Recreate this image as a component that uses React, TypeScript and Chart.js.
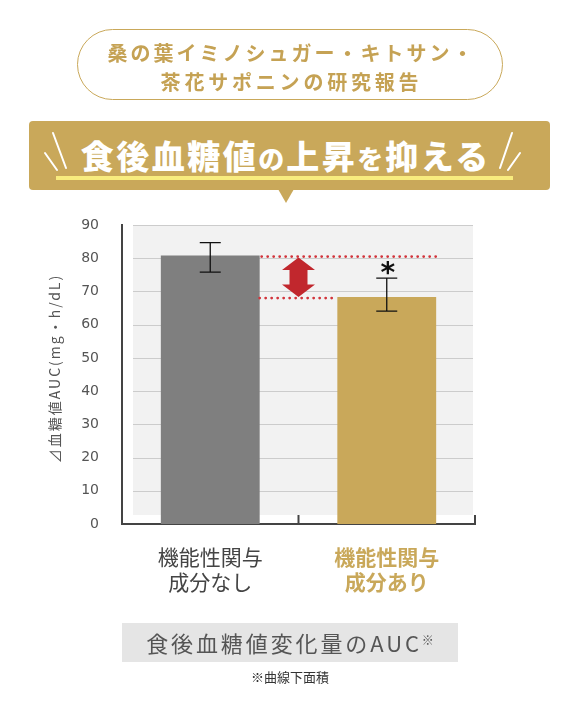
import React, { useEffect, useRef } from 'react';
import { Chart, registerables } from 'chart.js';

Chart.register(...registerables);

// ---- data ----
const categories: string[][] = [
  ['機能性関与', '成分なし'],
  ['機能性関与', '成分あり'],
];
const aucMeans = [80.8, 68.3];
const errorHigh = [84.7, 74.0];
const errorLow = [75.8, 64.1];
const significance = ['', '*'];
const yMin = 0;
const yMax = 90;
const yStep = 10;
const yTitle = '⊿血糖値AUC(mg・h/dL)';
const headerLines = ['桑の葉イミノシュガー・キトサン・', '茶花サポニンの研究報告'];
const bannerText = '食後血糖値の上昇を抑える';
const bannerSmallChars = 'のを';
const captionText = '食後血糖値変化量のAUC';
const captionMark = '※';
const footnote = '※曲線下面積';

// ---- styles ----
const GOLD = '#c9a85a';
const barColors = ['#7f7f7f', GOLD];
const labelColors = ['#444444', GOLD];
const JP = '"Noto Sans CJK JP", "Noto Sans", sans-serif';

const decorPlugin = {
  id: 'decor',
  beforeDatasetsDraw(chart: any) {
    const { ctx, chartArea } = chart;
    const y = chart.scales.y;
    const x = chart.scales.x;
    const top = y.getPixelForValue(yMax);
    const bottom = y.getPixelForValue(yMin) - 9;
    const left = chartArea.left + 11;
    const right = chartArea.right - 2;
    ctx.save();
    ctx.fillStyle = '#f2f2f2';
    ctx.fillRect(left, top, right - left, bottom - top);
    ctx.strokeStyle = '#cccccc';
    ctx.lineWidth = 1;
    for (let v = yMin + yStep; v <= yMax; v += yStep) {
      const py = Math.round(y.getPixelForValue(v)) + 0.5;
      ctx.beginPath();
      ctx.moveTo(left, py);
      ctx.lineTo(right, py);
      ctx.stroke();
    }
    ctx.strokeStyle = '#444444';
    ctx.lineWidth = 2;
    for (let i = 1; i <= categories.length; i++) {
      const px =
        i < categories.length
          ? (x.getPixelForValue(i - 1) + x.getPixelForValue(i)) / 2
          : chartArea.right;
      ctx.beginPath();
      ctx.moveTo(px, chartArea.bottom);
      ctx.lineTo(px, bottom);
      ctx.stroke();
    }
    ctx.restore();
  },
  afterDatasetsDraw(chart: any) {
    const { ctx } = chart;
    const y = chart.scales.y;
    const x = chart.scales.x;
    const meta = chart.getDatasetMeta(0);
    const bars = meta.data as any[];
    ctx.save();

    // dotted reference lines
    const y0 = y.getPixelForValue(aucMeans[0]) + 1;
    const y1 = y.getPixelForValue(aucMeans[1]) + 1;
    const b0Right = bars[0].x + bars[0].width / 2;
    const b1Left = bars[1].x - bars[1].width / 2;
    const b1Right = bars[1].x + bars[1].width / 2;
    ctx.strokeStyle = '#d2343b';
    ctx.lineWidth = 2.8;
    ctx.lineCap = 'round';
    ctx.setLineDash([0, 6]);
    ctx.beginPath();
    ctx.moveTo(b0Right + 2, y0);
    ctx.lineTo(b1Right + 2, y0);
    ctx.moveTo(b0Right, y1);
    ctx.lineTo(b1Left, y1);
    ctx.stroke();
    ctx.setLineDash([]);

    // double arrow
    const cx = (x.getPixelForValue(0) + x.getPixelForValue(1)) / 2;
    const at = y0 + 1;
    const ab = y1 - 1;
    const hw = 16.5;
    const sw = 9;
    const hh = 12.5;
    ctx.fillStyle = '#c1272d';
    ctx.beginPath();
    ctx.moveTo(cx, at);
    ctx.lineTo(cx + hw, at + hh);
    ctx.lineTo(cx + sw, at + hh);
    ctx.lineTo(cx + sw, ab - hh);
    ctx.lineTo(cx + hw, ab - hh);
    ctx.lineTo(cx, ab);
    ctx.lineTo(cx - hw, ab - hh);
    ctx.lineTo(cx - sw, ab - hh);
    ctx.lineTo(cx - sw, at + hh);
    ctx.lineTo(cx - hw, at + hh);
    ctx.closePath();
    ctx.fill();

    // error bars
    ctx.strokeStyle = '#111111';
    ctx.lineWidth = 1.3;
    ctx.lineCap = 'butt';
    bars.forEach((bar, i) => {
      const bx = bar.x;
      const yh = y.getPixelForValue(errorHigh[i]);
      const yl = y.getPixelForValue(errorLow[i]);
      ctx.beginPath();
      ctx.moveTo(bx, yh);
      ctx.lineTo(bx, yl);
      ctx.moveTo(bx - 10.5, yh);
      ctx.lineTo(bx + 10.5, yh);
      ctx.moveTo(bx - 10.5, yl);
      ctx.lineTo(bx + 10.5, yl);
      ctx.stroke();
      if (significance[i]) {
        ctx.fillStyle = '#111111';
        ctx.font = 'bold 28px "DejaVu Sans"';
        ctx.textAlign = 'center';
        ctx.textBaseline = 'middle';
        ctx.fillText(significance[i], bx + 1, yh - 3);
      }
    });
    ctx.restore();
  },
  afterDraw(chart: any) {
    const { ctx, chartArea } = chart;
    ctx.save();
    (ctx as any).letterSpacing = '2px';
    ctx.fillStyle = '#555555';
    ctx.font = `14px ${JP}`;
    ctx.textAlign = 'center';
    ctx.textBaseline = 'middle';
    ctx.translate(55, (chartArea.top + chartArea.bottom) / 2 - 6);
    ctx.rotate(-Math.PI / 2);
    ctx.fillText(yTitle, 0, 0);
    ctx.restore();
  },
};

export default function App() {
  const ref = useRef<HTMLCanvasElement>(null);

  useEffect(() => {
    const canvas = ref.current!;
    const chart = new Chart(canvas, {
      type: 'bar',
      data: {
        labels: categories,
        datasets: [
          {
            data: aucMeans,
            backgroundColor: barColors,
            borderWidth: 0,
            barPercentage: 0.56,
            categoryPercentage: 1,
          },
        ],
      },
      options: {
        responsive: false,
        animation: false,
        events: [],
        layout: { padding: { top: 225, left: 0, right: 105, bottom: 109 } },
        plugins: {
          legend: { display: false },
          tooltip: { enabled: false },
          title: { display: false },
        },
        scales: {
          x: {
            z: 1,
            grid: { display: false, drawTicks: false },
            border: { display: true, color: '#444444', width: 2 },
            ticks: {
              padding: 20,
              color: (c: any) => labelColors[c.index] || '#444',
              font: (c: any) => ({
                family: JP,
                size: 21,
                lineHeight: 1.2,
                weight: c.index === 1 ? 'bold' : 'normal',
              }),
            },
            afterFit: (s: any) => {
              s.height = 80;
            },
          },
          y: {
            min: yMin,
            max: yMax,
            grid: { display: false, drawTicks: false },
            border: { display: true, color: '#444444', width: 2 },
            ticks: {
              stepSize: yStep,
              padding: 23,
              color: '#555555',
              font: { family: '"DejaVu Sans"', size: 14 },
            },
            afterFit: (s: any) => {
              s.width = 122;
            },
          },
        },
      },
      plugins: [decorPlugin],
    } as any);
    return () => chart.destroy();
  }, []);

  const abs = (o: React.CSSProperties): React.CSSProperties => ({ position: 'absolute', ...o });

  return (
    <div
      style={{
        position: 'absolute',
        left: 0,
        top: 0,
        width: 580,
        height: 713,
        overflow: 'hidden',
        background: '#ffffff',
        fontFamily: JP,
      }}
    >
      <canvas
        ref={ref}
        width={580}
        height={713}
        style={{ position: 'absolute', left: 0, top: 0, width: 580, height: 713 }}
      />

      {/* header pill */}
      <div
        style={abs({
          left: 77,
          top: 29,
          width: 426,
          height: 71,
          boxSizing: 'border-box',
          border: `1.5px solid ${GOLD}`,
          borderRadius: 36,
        })}
      />
      <div
        style={abs({
          left: 0,
          top: 38,
          width: 580,
          textAlign: 'center',
          color: '#c5a254',
          fontWeight: 700,
          fontSize: 20,
          lineHeight: '29px',
          letterSpacing: 3,
          paddingLeft: 3,
          boxSizing: 'border-box',
          whiteSpace: 'nowrap',
        })}
      >
        {headerLines.map((l, i) => (
          <div key={l} style={i === 1 ? { letterSpacing: 3.8 } : undefined}>
            {l}
          </div>
        ))}
      </div>

      {/* banner */}
      <div style={abs({ left: 29, top: 121, width: 521, height: 69, background: GOLD, borderRadius: 4 })} />
      <div
        style={abs({
          left: 278,
          top: 189,
          width: 0,
          height: 0,
          borderLeft: '8px solid transparent',
          borderRight: '8px solid transparent',
          borderTop: `14px solid ${GOLD}`,
        })}
      />
      <div style={abs({ left: 56, top: 176, width: 457, height: 4, background: '#f8ec7e' })} />
      <svg width={580} height={713} style={abs({ left: 0, top: 0 })}>
        <g stroke="#ffffff" strokeWidth={2} strokeLinecap="round">
          <line x1={45} y1={153} x2={57} y2={170} />
          <line x1={53} y1={133} x2={66} y2={168} />
          <line x1={512} y1={133} x2={500} y2={168} />
          <line x1={520} y1={153} x2={508} y2={170} />
        </g>
      </svg>
      <div
        style={abs({
          left: 56,
          top: 131,
          width: 457,
          height: 48,
          lineHeight: '48px',
          textAlign: 'center',
          color: '#ffffff',
          fontWeight: 900,
          fontSize: 33,
          letterSpacing: 2.5,
          paddingLeft: 2.5,
          boxSizing: 'border-box',
          whiteSpace: 'nowrap',
        })}
      >
        {bannerText.split('').map((ch, i) =>
          bannerSmallChars.includes(ch) ? (
            <span key={i} style={{ fontSize: 26, letterSpacing: 2 }}>
              {ch}
            </span>
          ) : (
            <span key={i}>{ch}</span>
          )
        )}
      </div>

      {/* caption */}
      <div style={abs({ left: 122, top: 623, width: 336, height: 39, background: '#e5e5e5' })} />
      <div
        style={abs({
          left: 122,
          top: 623,
          width: 336,
          height: 39,
          lineHeight: '39px',
          textAlign: 'center',
          color: '#555555',
          fontSize: 22,
          letterSpacing: 2.9,
          whiteSpace: 'nowrap',
        })}
      >
        {captionText}
        <span style={{ fontSize: 12, position: 'relative', top: -7, letterSpacing: 0 }}>{captionMark}</span>
      </div>
      <div
        style={abs({
          left: 0,
          top: 668,
          width: 580,
          textAlign: 'center',
          color: '#333333',
          fontSize: 13,
          lineHeight: '18px',
          whiteSpace: 'nowrap',
        })}
      >
        {footnote}
      </div>
    </div>
  );
}
